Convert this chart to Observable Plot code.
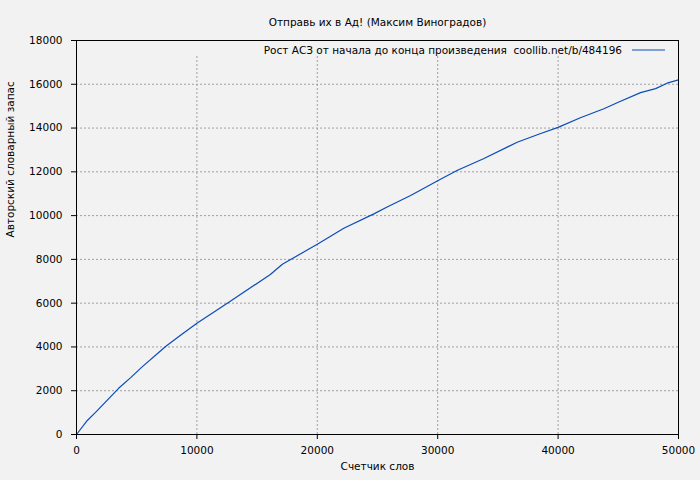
<!DOCTYPE html>
<html>
<head>
<meta charset="utf-8">
<script src="https://cdn.jsdelivr.net/npm/d3@7"></script>
<script src="https://cdn.jsdelivr.net/npm/@observablehq/plot@0.6"></script>
<style>
  html, body { margin: 0; padding: 0; background: #f2f2f2; }
</style>
</head>
<body>
<div id="chart"></div>
<script>
const titleText = "Отправь их в Ад! (Максим Виноградов)";
const xLabel = "Счетчик слов";
const yLabel = "Авторский словарный запас";
const legendText = "Рост АСЗ от начала до конца произведения  coollib.net/b/484196";

const words = [0, 900, 1600, 3500, 4500, 5450, 6850, 7400, 8500, 10000, 12650, 16100, 17100, 20000, 21000, 22200, 24700, 25800, 27750, 30000, 31600, 33800, 36600, 38500, 40000, 41850, 43800, 45000, 46850, 48100, 49050, 50000];
const vocab = [0, 640, 1020, 2110, 2600, 3090, 3760, 4020, 4480, 5080, 6040, 7310, 7780, 8690, 9020, 9420, 10080, 10390, 10920, 11590, 12060, 12600, 13350, 13740, 14030, 14470, 14880, 15180, 15620, 15800, 16050, 16200];

const xTicks = [0, 10000, 20000, 30000, 40000, 50000];
const yTicks = [0, 2000, 4000, 6000, 8000, 10000, 12000, 14000, 16000, 18000];

const data = words.map((w, i) => ({w, v: vocab[i]}));
const lineColor = "#0a4cb8";
const gridStyle = {stroke: "#a0a0a0", strokeOpacity: 1, strokeDasharray: "2,2"};

const chart = Plot.plot({
  width: 700,
  height: 480,
  marginLeft: 76,
  marginRight: 22,
  marginTop: 40,
  marginBottom: 46,
  style: {background: "#f2f2f2", fontFamily: "DejaVu Sans", fontSize: "10.5px", color: "#000"},
  x: {domain: [0, 50000], label: null},
  y: {domain: [0, 18000], label: null},
  marks: [
    Plot.gridX(xTicks.slice(1, -1), gridStyle),
    Plot.gridY(yTicks.slice(1, -1), gridStyle),
    Plot.line(data, {x: "w", y: "v", stroke: lineColor, strokeWidth: 1.2}),
    Plot.frame({stroke: "#000", strokeWidth: 1}),
    Plot.axisX(xTicks, {tickSize: 5, tickPadding: 7, tickFormat: "d", label: null, stroke: "#000"}),
    Plot.axisY(yTicks, {tickSize: 5, tickPadding: 9, tickFormat: "d", label: null, stroke: "#000"}),
    Plot.text([titleText], {frameAnchor: "top", dy: -22, fontSize: 10.5, fill: "#000"}),
    Plot.text([xLabel], {frameAnchor: "bottom", dy: 35, fontSize: 10.5, fill: "#000"}),
    Plot.text([yLabel], {frameAnchor: "left", dx: -66, rotate: -90, fontSize: 10.5, fill: "#000"})
  ]
});

// legend (key box) in the top-right of the plot area
const svg = d3.select(chart);
const g = svg.append("g");
g.append("rect").attr("x", 180).attr("y", 41).attr("width", 496).attr("height", 15).attr("fill", "#f2f2f2");
g.append("text").attr("x", 622).attr("y", 50).attr("dy", "0.35em").attr("text-anchor", "end")
  .attr("font-family", "DejaVu Sans").attr("font-size", "10.5px").attr("fill", "#000")
  .style("white-space", "pre").text(legendText);
g.append("line").attr("x1", 632).attr("x2", 665).attr("y1", 50).attr("y2", 50)
  .attr("stroke", lineColor).attr("stroke-width", 1.2);

document.getElementById("chart").appendChild(chart);
</script>
</body>
</html>
